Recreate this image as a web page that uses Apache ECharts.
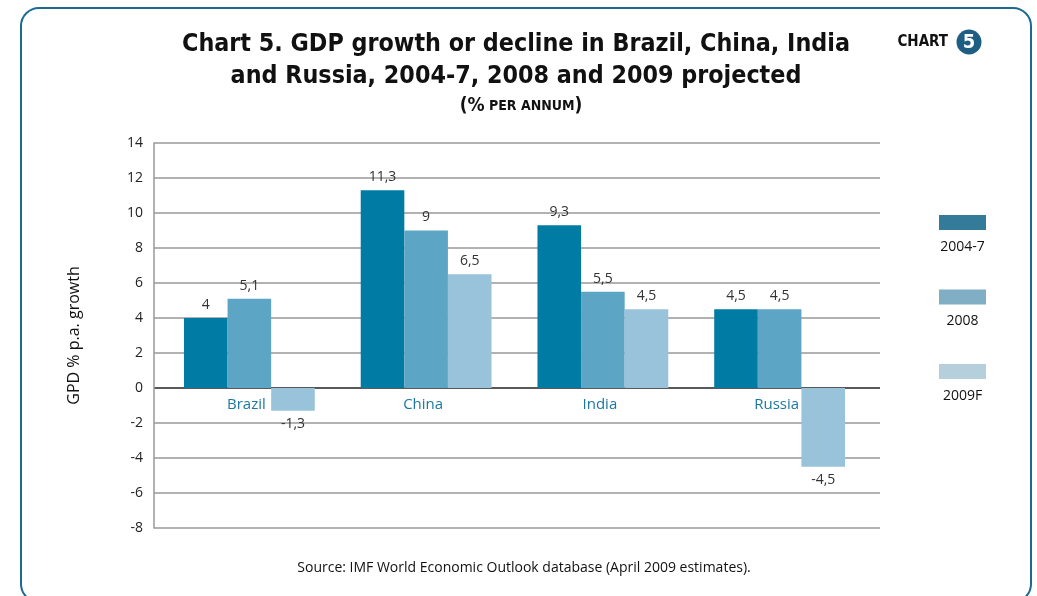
<!DOCTYPE html>
<html>
<head>
<meta charset="utf-8">
<script src="https://cdn.jsdelivr.net/npm/echarts@6/dist/echarts.min.js"></script>
<style>
  html, body { margin: 0; padding: 0; background: #ffffff; }
  #chart { width: 1037px; height: 596px; }
</style>
</head>
<body>
<div id="chart"></div>
<script>
// Countries on the category axis
const countries = ['Brazil', 'China', 'India', 'Russia'];
// Period names (one series each)
const periods = ['2004-7', '2008', '2009F'];
// Growth in % per annum, per period, in country order
const growth2004to7 = [4, 11.3, 9.3, 4.5];
const growth2008 = [5.1, 9, 5.5, 4.5];
const growth2009F = [-1.3, 6.5, 4.5, -4.5];
// Value axis range and step
const yMin = -8, yMax = 14, yStep = 2;

const barColors = ['#007ba4', '#5ca5c5', '#98c3da'];
const legendColors = ['#347a99', '#80aec4', '#b5d0dc'];
const seriesValues = [growth2004to7, growth2008, growth2009F];

const bodyFont = "'Open Sans', 'Noto Sans', sans-serif";
const titleFont = "'DejaVu Sans Condensed', 'DejaVu Sans', sans-serif";

function fmt(v) { return String(v).replace('.', ','); }

const chart = echarts.init(document.getElementById('chart'), null, { renderer: 'canvas' });

const plotTop = 143, plotBottom = 68, plotHeight = 596 - plotTop - plotBottom;
// distance from the bottom of the plot up to the zero line
const zeroOffset = plotHeight * (0 - yMin) / (yMax - yMin);

// grid lines are grey, the one through zero is dark
const gridLineColors = [];
for (let v = yMin; v <= yMax; v += yStep) gridLineColors.push(v === 0 ? '#222' : '#999');

const series = periods.map((name, i) => ({
  name: name,
  type: 'bar',
  xAxisIndex: 1,
  yAxisIndex: 1,
  barWidth: 43.6,
  barGap: '0%',
  itemStyle: { color: barColors[i] },
  label: {
    show: true,
    fontFamily: bodyFont,
    fontSize: 14,
    color: '#333',
    distance: 6,
    formatter: p => fmt(p.value)
  },
  data: seriesValues[i].map(v => ({
    value: v,
    label: { position: v < 0 ? 'bottom' : 'top' }
  }))
}));

// Legend: swatch with the period name below it
const legendGraphics = [];
periods.forEach((name, i) => {
  const top = 215 + i * 74.5;
  legendGraphics.push({
    type: 'rect',
    shape: { x: 939, y: top, width: 47, height: 15 },
    style: { fill: legendColors[i] }
  });
  legendGraphics.push({
    type: 'text',
    style: {
      x: 962.5, y: top + 32, text: name,
      align: 'center', verticalAlign: 'middle',
      font: '14px ' + bodyFont, fill: '#111'
    }
  });
});

const option = {
  backgroundColor: '#ffffff',
  animation: false,
  title: [{
    text: 'Chart 5. GDP growth or decline in Brazil, China, India\nand Russia, 2004-7, 2008 and 2009 projected',
    left: 511, top: 24, textAlign: 'center',
    textStyle: { fontFamily: titleFont, fontWeight: 'bold', fontSize: 24.8, lineHeight: 32, color: '#111' }
  }, {
    text: '{a|(%}{b| PER ANNUM}{a|)}',
    left: 516, top: 92, textAlign: 'center',
    textStyle: {
      rich: {
        a: { fontFamily: titleFont, fontWeight: 'bold', fontSize: 19, color: '#111' },
        b: { fontFamily: titleFont, fontWeight: 'bold', fontSize: 14, color: '#111' }
      }
    }
  }, {
    text: 'Source: IMF World Economic Outlook database (April 2009 estimates).',
    left: 519, top: 556, textAlign: 'center',
    textStyle: { fontFamily: bodyFont, fontWeight: 'normal', fontSize: 14, color: '#111' }
  }],
  grid: [
    { left: 154, right: 157, top: plotTop, bottom: plotBottom },
    { left: 161, right: 169, top: plotTop, bottom: plotBottom }
  ],
  xAxis: [{
    type: 'category', gridIndex: 0, data: countries, show: false
  }, {
    type: 'category', gridIndex: 1, data: countries,
    position: 'bottom',
    offset: -zeroOffset,
    axisLine: { show: false, onZero: false },
    axisTick: { show: false },
    axisLabel: { fontFamily: bodyFont, fontSize: 15, color: '#1a78a0', margin: 9, padding: [0, 6, 0, 0] },
    z: 1
  }],
  yAxis: [{
    type: 'value', gridIndex: 0, min: yMin, max: yMax, interval: yStep,
    name: 'GPD % p.a. growth', nameLocation: 'middle', nameGap: 72, nameRotate: 90,
    nameTextStyle: { fontFamily: bodyFont, fontSize: 16, color: '#111' },
    axisLine: { show: true, lineStyle: { color: '#999', width: 1.5 } },
    axisTick: { show: false },
    axisLabel: { fontFamily: bodyFont, fontSize: 14, color: '#222', margin: 11 },
    splitLine: { show: true, lineStyle: { color: gridLineColors, width: 1.5 } }
  }, {
    type: 'value', gridIndex: 1, min: yMin, max: yMax, interval: yStep,
    axisLine: { show: false }, axisTick: { show: false },
    axisLabel: { show: false }, splitLine: { show: false }
  }],
  series: series,
  graphic: [
    {
      type: 'rect',
      shape: { x: 21, y: 8, width: 1010, height: 594, r: 18 },
      style: { fill: 'none', stroke: '#1b6a91', lineWidth: 2 },
      silent: true
    },
    {
      type: 'text',
      style: { x: 948, y: 42, text: 'CHART', align: 'right', verticalAlign: 'middle',
               font: 'bold 15px ' + titleFont, fill: '#111' }
    },
    {
      type: 'circle',
      shape: { cx: 969, cy: 42, r: 12.5 },
      style: { fill: '#1d5e82' }
    },
    {
      type: 'text',
      style: { x: 969, y: 43, text: '5', align: 'center', verticalAlign: 'middle',
               font: 'bold 20px ' + titleFont, fill: '#ffffff' }
    }
  ].concat(legendGraphics)
};

chart.setOption(option);
</script>
</body>
</html>
